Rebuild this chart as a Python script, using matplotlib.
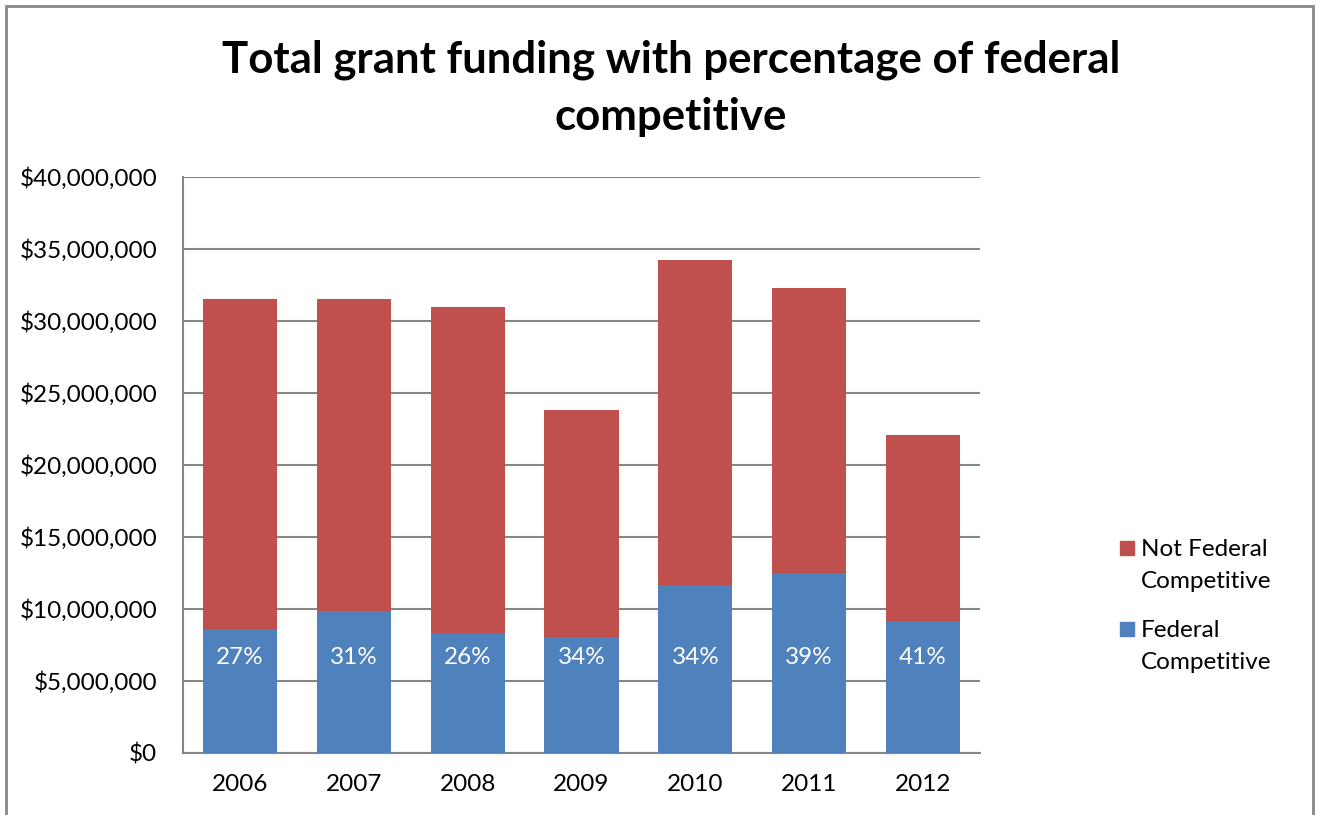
import matplotlib
matplotlib.use("Agg")
import matplotlib.pyplot as plt
from matplotlib.patches import Rectangle
from matplotlib.ticker import FuncFormatter
import numpy as np

years = ["2006", "2007", "2008", "2009", "2010", "2011", "2012"]
federal = [8.61e6, 9.86e6, 8.26e6, 8.06e6, 11.67e6, 12.50e6, 9.17e6]
not_federal = [22.92e6, 21.67e6, 22.71e6, 15.76e6, 22.57e6, 19.79e6, 12.91e6]
pct_labels = ["27%", "31%", "26%", "34%", "34%", "39%", "41%"]
legend_labels = ["Not Federal\nCompetitive", "Federal\nCompetitive"]
label_y = 6.6e6

RED = "#C0504D"
BLUE = "#4F81BD"
GRID = "#868686"
FONT = "Lato"
FS = 17.5

plt.rcParams['font.family'] = [FONT, 'DejaVu Sans']

W, H = 1318, 815
fig = plt.figure(figsize=(W / 100, H / 100), dpi=100)
ax = fig.add_axes([183/W, 1-753/H, (980-183)/W, (753-177)/H])

x = np.arange(len(years))
w = 0.65
ax.bar(x, federal, w, color=BLUE, zorder=3)
ax.bar(x, not_federal, w, bottom=federal, color=RED, zorder=3)

for xi, t in zip(x, pct_labels):
    ax.text(xi, label_y, t, color="white", ha="center", va="center", fontsize=FS, zorder=4)

ax.set_xlim(-0.5, len(years) - 0.5)
ax.set_ylim(0, 40e6)
ax.set_yticks(np.arange(0, 40e6 + 1, 5e6))
ax.yaxis.set_major_formatter(FuncFormatter(lambda v, p: "${:,.0f}".format(v)))
ax.set_xticks(x)
ax.set_xticklabels(years)
ax.tick_params(axis='both', length=0, labelsize=FS, colors="black")
ax.tick_params(axis='y', pad=18.5)
ax.tick_params(axis='x', pad=15)
ax.grid(axis='y', color=GRID, linewidth=1.5, zorder=0)
ax.set_axisbelow(True)
for s in ["top", "right"]:
    ax.spines[s].set_visible(False)
for s in ["left", "bottom"]:
    ax.spines[s].set_color(GRID)
    ax.spines[s].set_linewidth(1.5)

fig.text(671/W, 1-60/H, "Total grant funding with percentage of federal",
         ha="center", va="center", fontsize=31.5, fontweight="bold")
fig.text(671/W, 1-117/H, "competitive",
         ha="center", va="center", fontsize=31.5, fontweight="bold")

# legend (Excel style: square aligned with first line of wrapped label)
leg_colors = [RED, BLUE]
leg_first_line_y = [548, 629]
for col, lab, yy in zip(leg_colors, legend_labels, leg_first_line_y):
    fig.patches.append(Rectangle((1120/W, 1-(yy+7)/H), 14/W, 14/H,
                                 transform=fig.transFigure, color=col))
    fig.text(1141/W, 1-(yy-9)/H, lab, ha="left", va="top",
             fontsize=FS, linespacing=1.62)

fig.patches.append(Rectangle((6/W, -0.05), (1313-6)/W, 1-6/H+0.05,
                             transform=fig.transFigure, fill=False,
                             edgecolor="#888888", linewidth=2))

fig.savefig("out.png", dpi=100)
